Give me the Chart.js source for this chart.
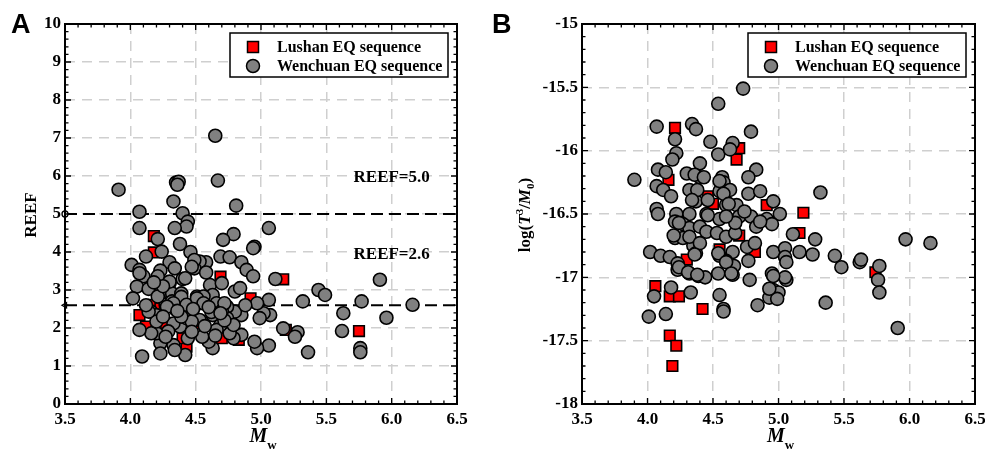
<!DOCTYPE html>
<html>
<head>
<meta charset="utf-8">
<script src="https://cdn.jsdelivr.net/npm/chart.js@4.4.1/dist/chart.umd.min.js"></script>
<style>
  body { margin: 0; background: #fff; }
  #boxA { position: absolute; left: 0; top: 0; width: 490px; height: 452px; }
  #boxB { position: absolute; left: 490px; top: 0; width: 495px; height: 452px; }
</style>
</head>
<body>
<div id="boxA"><canvas id="chartA" width="490" height="452"></canvas></div>
<div id="boxB"><canvas id="chartB" width="495" height="452"></canvas></div>
<script>
// Axis tick labels
const xTickLabels = ['3.5', '4.0', '4.5', '5.0', '5.5', '6.0', '6.5'];
const reefTickLabels = ['0', '1', '2', '3', '4', '5', '6', '7', '8', '9', '10'];
const logTickLabels = ['-18', '-17.5', '-17', '-16.5', '-16', '-15.5', '-15'];
const seriesNames = ['Lushan EQ sequence', 'Wenchuan EQ sequence'];
const reefLevels = [5.0, 2.6];
const reefLevelLabels = ['REEF=5.0', 'REEF=2.6'];

// Panel A: REEF vs Mw
const lushanMwA = [4.18, 4.18, 4.07, 4.18, 4.23, 4.25, 4.12, 4.47, 4.49, 4.43, 4.40, 4.69, 4.92, 5.17, 5.19, 5.75, 4.70, 4.83, 4.20];
const lushanReef = [4.42, 3.99, 2.34, 2.61, 2.52, 2.12, 2.04, 2.21, 2.12, 1.51, 1.73, 3.35, 2.78, 3.28, 1.95, 1.92, 1.73, 1.69, 1.86];

const wenchuanMwA = [3.91, 4.65, 4.67, 4.81, 4.35, 4.37, 4.33, 4.36, 4.07, 4.40,
  4.44, 4.43, 4.34, 4.07, 4.21, 4.38, 5.06, 4.79, 4.71, 4.95,
  4.94, 4.24, 4.46, 4.12, 4.69, 4.76, 4.85, 4.01, 4.58, 4.53,
  4.30, 4.89, 4.94, 4.07, 4.10, 4.23, 4.21, 4.34, 4.49, 4.58,
  4.40, 4.30, 4.61, 4.70, 5.11, 4.05, 4.14, 4.23, 4.32, 4.39,
  4.63, 4.80, 4.84, 5.91, 5.44, 5.49, 5.32, 5.77, 6.16, 5.96,
  5.63, 5.62, 5.76, 5.76, 5.36, 5.28, 5.26, 5.17, 5.06, 5.07,
  5.02, 4.99, 4.97, 5.06, 4.97, 4.95, 4.85, 4.79, 4.76, 4.85,
  4.80, 4.74, 4.74, 4.69, 4.66, 4.63, 4.60, 4.55, 4.53, 4.63,
  4.53, 4.51, 4.56, 4.43, 4.38, 4.38, 4.33, 4.44, 4.42, 4.33,
  4.34, 4.29, 4.23, 4.23, 4.20, 4.16, 4.09, 4.07, 4.16, 4.20,
  4.20, 4.27, 4.32, 4.02, 4.21, 4.35, 4.43, 4.47, 4.66, 4.79,
  4.07, 4.30, 4.39, 4.43, 4.33, 4.28, 4.14, 4.39, 4.51, 4.56,
  4.62, 4.27, 4.49, 4.47, 4.42, 4.25, 4.36, 4.48, 4.60, 4.70,
  4.57, 4.47, 4.25, 4.12, 4.18, 4.65, 4.72, 4.88, 4.72, 4.69];
const wenchuanReef = [5.64, 7.06, 5.88, 5.22, 5.83, 5.85, 5.33, 5.77, 5.06, 5.02,
  4.80, 4.67, 4.63, 4.63, 4.34, 4.21, 4.63, 4.47, 4.32, 4.14,
  4.10, 4.01, 4.00, 3.88, 3.88, 3.86, 3.73, 3.66, 3.73, 3.75,
  3.73, 3.53, 3.36, 3.53, 3.36, 3.51, 3.36, 3.57, 3.57, 3.46,
  3.29, 3.18, 3.13, 3.18, 3.29, 3.09, 3.03, 2.91, 2.91, 2.91,
  2.87, 2.96, 3.05, 3.27, 3.00, 2.87, 2.70, 2.70, 2.61, 2.27,
  2.39, 1.92, 1.47, 1.36, 1.36, 1.89, 1.77, 1.99, 2.74, 2.34,
  2.39, 2.26, 2.65, 1.54, 1.47, 1.64, 1.82, 1.73, 1.86, 2.34,
  2.43, 2.56, 2.26, 2.08, 1.95, 1.47, 1.64, 1.77, 2.21, 2.34,
  2.65, 2.83, 2.83, 2.52, 2.17, 2.04, 2.12, 1.73, 1.29, 1.55,
  1.42, 1.91, 1.60, 1.33, 1.86, 1.86, 1.25, 1.95, 2.43, 2.34,
  2.17, 2.61, 2.70, 2.78, 2.83, 2.48, 2.26, 2.17, 2.65, 2.08,
  3.44, 3.22, 2.82, 2.61, 2.65, 2.56, 2.43, 2.30, 2.78, 2.65,
  2.42, 1.77, 3.79, 3.61, 3.31, 3.10, 2.45, 2.50, 2.55, 2.45,
  2.05, 1.90, 2.30, 2.60, 3.20, 1.80, 2.20, 2.60, 2.65, 2.39];

// Panel B: log(T^3/M0) vs Mw
const lushanMwB = [4.21, 4.16, 4.46, 4.50, 4.70, 4.68, 4.91, 5.19, 5.16, 4.70, 4.55, 4.82, 4.30, 4.06, 4.17, 4.24, 4.42, 4.17, 4.22, 4.19, 5.74];
const lushanLog = [-15.82, -16.23, -16.36, -16.42, -15.98, -16.07, -16.43, -16.49, -16.65, -16.67, -16.78, -16.80, -16.86, -17.07, -17.15, -17.15, -17.25, -17.46, -17.54, -17.70, -16.96];

const wenchuanMwB = [3.90, 4.73, 4.54, 4.07, 4.34, 4.37, 4.79, 4.48, 4.54, 4.65,
  4.63, 4.21, 4.22, 4.19, 4.08, 4.14, 4.30, 4.40, 4.40, 4.57,
  4.58, 4.83, 4.77, 4.07, 4.12, 4.18, 4.32, 4.37, 4.46, 4.55,
  4.63, 4.77, 4.86, 5.32, 4.07, 4.08, 4.22, 4.32, 4.45, 4.55,
  4.60, 4.68, 4.70, 4.79, 4.83, 4.91, 4.96, 5.01, 4.95, 4.21,
  4.27, 4.32, 4.40, 4.45, 4.53, 4.60, 4.67, 4.21, 4.27, 4.35,
  4.37, 4.76, 4.82, 4.77, 4.65, 4.55, 4.02, 4.10, 4.17, 4.23,
  4.23, 4.32, 4.39, 4.44, 4.54, 4.65, 4.66, 4.60, 4.78, 4.96,
  5.05, 5.05, 5.06, 5.11, 5.16, 5.26, 5.28, 5.43, 5.48, 5.62,
  5.63, 5.77, 5.76, 5.77, 5.97, 6.16, 5.91, 5.36, 5.06, 5.05,
  4.95, 4.96, 5.00, 4.93, 4.84, 4.58, 4.58, 4.55, 4.33, 4.18,
  4.05, 4.14, 4.01,
  4.36, 4.43, 4.38, 4.34, 4.55, 4.58, 4.46, 4.24, 4.20, 4.32,
  4.40, 4.54, 4.36, 4.24, 4.31, 4.38, 4.74, 4.86, 4.62, 4.67,
  4.60, 4.60, 4.64, 4.96, 4.99, 4.93];
const wenchuanLog = [-16.23, -15.51, -15.63, -15.81, -15.79, -15.83, -15.85, -15.93, -16.03, -15.94,
  -15.99, -15.91, -16.02, -16.07, -16.15, -16.17, -16.18, -16.10, -16.21, -16.21,
  -16.25, -16.15, -16.21, -16.28, -16.31, -16.36, -16.31, -16.40, -16.39, -16.32,
  -16.31, -16.34, -16.32, -16.33, -16.46, -16.50, -16.50, -16.50, -16.50, -16.54,
  -16.43, -16.43, -16.52, -16.52, -16.60, -16.54, -16.40, -16.50, -16.58, -16.56,
  -16.58, -16.61, -16.60, -16.64, -16.65, -16.68, -16.65, -16.69, -16.69, -16.75,
  -16.81, -16.76, -16.73, -16.87, -16.80, -16.83, -16.80, -16.83, -16.84, -16.89,
  -16.94, -16.97, -16.99, -17.00, -16.97, -16.98, -16.91, -16.87, -17.02, -16.80,
  -16.77, -16.84, -16.88, -16.66, -16.80, -16.82, -16.70, -16.83, -16.92, -16.88,
  -16.86, -16.91, -17.02, -17.12, -16.70, -16.73, -17.40, -17.20, -17.02, -17.00,
  -16.97, -17.10, -17.12, -17.16, -17.22, -17.25, -17.27, -17.14, -17.12, -17.08,
  -17.15, -17.29, -17.31,
  -16.19, -16.21, -16.31, -16.39, -16.24, -16.34, -16.51, -16.57, -16.67, -16.68,
  -16.73, -16.81, -16.82, -16.92, -16.96, -16.98, -16.48, -16.56, -16.42, -16.57,
  -16.52, -16.88, -16.97, -16.99, -17.17, -17.09];

const SERIF = '"Liberation Serif", "Times New Roman", serif';
const tickFont = { family: SERIF, size: 17, weight: 'bold' };

const pts = (xs, ys) => xs.map((x, i) => ({ x: x, y: ys[i] }));

const lushanStyle = {
  pointStyle: 'rect', pointRadius: 7.5, pointHoverRadius: 7.5,
  backgroundColor: '#ff0000', borderColor: '#000', borderWidth: 1.6
};
const wenchuanStyle = {
  pointStyle: 'circle', pointRadius: 6.5, pointHoverRadius: 6.5,
  backgroundColor: '#808080', borderColor: '#000', borderWidth: 1.6
};

// frame with inward minor/major ticks on all four sides
const framePlugin = {
  id: 'frame',
  afterDraw(chart, args, o) {
    const { ctx, chartArea: a, scales: { x, y } } = chart;
    ctx.save();
    ctx.strokeStyle = '#000';
    ctx.lineWidth = 1.3;
    const nx = Math.round((6.5 - 3.5) / 0.1);
    for (let i = 0; i <= nx; i++) {
      const p = x.getPixelForValue(3.5 + i * 0.1);
      const len = i % 5 === 0 ? 6 : 3.5;
      ctx.beginPath();
      ctx.moveTo(p, a.bottom); ctx.lineTo(p, a.bottom - len);
      ctx.moveTo(p, a.top); ctx.lineTo(p, a.top + len);
      ctx.stroke();
    }
    const ny = Math.round((o.max - o.min) / o.minor);
    for (let i = 0; i <= ny; i++) {
      const p = y.getPixelForValue(o.min + i * o.minor);
      const len = i % o.every === 0 ? 6 : 3.5;
      ctx.beginPath();
      ctx.moveTo(a.left, p); ctx.lineTo(a.left + len, p);
      ctx.moveTo(a.right, p); ctx.lineTo(a.right - len, p);
      ctx.stroke();
    }
    ctx.lineWidth = 2;
    ctx.strokeRect(a.left, a.top, a.right - a.left, a.bottom - a.top);
    ctx.restore();
  }
};

// boxed legend inside the plot, top right
const boxLegendPlugin = {
  id: 'boxLegend',
  afterDraw(chart) {
    const { ctx, chartArea: a } = chart;
    const w = 218, h = 44;
    const left = a.right - 9 - w, top = a.top + 9;
    ctx.save();
    ctx.fillStyle = '#fff';
    ctx.fillRect(left, top, w, h);
    ctx.strokeStyle = '#000';
    ctx.lineWidth = 1.5;
    ctx.strokeRect(left, top, w, h);
    // Lushan square
    const mx = left + 23;
    ctx.fillStyle = '#ff0000';
    ctx.fillRect(mx - 5.5, top + 14 - 5.5, 11, 11);
    ctx.strokeRect(mx - 5.5, top + 14 - 5.5, 11, 11);
    // Wenchuan circle
    ctx.beginPath();
    ctx.arc(mx, top + 33, 6.5, 0, Math.PI * 2);
    ctx.fillStyle = '#808080';
    ctx.fill();
    ctx.stroke();
    ctx.fillStyle = '#000';
    ctx.font = 'bold 16px ' + SERIF;
    ctx.textBaseline = 'middle';
    ctx.textAlign = 'left';
    ctx.fillText(seriesNames[0], left + 47, top + 15);
    ctx.fillText(seriesNames[1], left + 47, top + 34);
    ctx.restore();
  }
};

// axis titles with italic / sub / superscripts
function drawRuns(ctx, runs, x, y) {
  let total = 0;
  runs.forEach(r => { ctx.font = r.font; total += ctx.measureText(r.t).width; });
  let cx = x - total / 2;
  runs.forEach(r => {
    ctx.font = r.font;
    ctx.fillText(r.t, cx, y + (r.dy || 0));
    cx += ctx.measureText(r.t).width;
  });
}

const titlesPlugin = {
  id: 'titles',
  afterDraw(chart, args, o) {
    const { ctx, chartArea: a } = chart;
    ctx.save();
    ctx.fillStyle = '#000';
    ctx.textBaseline = 'alphabetic';
    ctx.textAlign = 'left';
    // x title: Mw
    drawRuns(ctx, [
      { t: 'M', font: 'italic bold 20px ' + SERIF },
      { t: 'w', font: 'bold 13px ' + SERIF, dy: 7 }
    ], (a.left + a.right) / 2 + 2, 442);
    // y title
    ctx.translate(o.yTitleX, (a.top + a.bottom) / 2 + 1);
    ctx.rotate(-Math.PI / 2);
    drawRuns(ctx, o.yRuns, 0, 0);
    ctx.restore();
    // panel letter
    ctx.save();
    ctx.fillStyle = '#000';
    ctx.font = 'bold 27px "Liberation Sans", Arial, sans-serif';
    ctx.textBaseline = 'alphabetic';
    ctx.fillText(o.letter, o.letterX, 33);
    ctx.restore();
  }
};

// REEF threshold labels (panel A)
const levelLabelPlugin = {
  id: 'levelLabels',
  afterDatasetsDraw(chart, args, o) {
    if (!o.items) return;
    const { ctx, scales: { x, y } } = chart;
    ctx.save();
    ctx.fillStyle = '#000';
    ctx.font = 'bold 17px ' + SERIF;
    ctx.textAlign = 'center';
    ctx.textBaseline = 'middle';
    o.items.forEach(it => ctx.fillText(it.text, x.getPixelForValue(it.x), y.getPixelForValue(it.y)));
    ctx.restore();
  }
};

function makeChart(id, cfg) {
  return new Chart(document.getElementById(id), {
    type: 'scatter',
    data: { datasets: cfg.datasets },
    options: {
      responsive: false,
      animation: false,
      devicePixelRatio: 1,
      layout: { padding: { left: 0, top: 24, right: cfg.padRight, bottom: 0 } },
      plugins: {
        legend: { display: false },
        tooltip: { enabled: false },
        frame: { min: cfg.yMin, max: cfg.yMax, minor: cfg.yMinor, every: cfg.yEvery },
        titles: { yTitleX: cfg.yTitleX, yRuns: cfg.yRuns, letter: cfg.letter, letterX: cfg.letterX },
        levelLabels: { items: cfg.levelItems }
      },
      scales: {
        x: {
          type: 'linear', min: 3.5, max: 6.5,
          ticks: { stepSize: 0.5, font: tickFont, color: '#000', padding: 5,
                   maxRotation: 0, callback: (v, i) => xTickLabels[i] },
          grid: { color: '#cfcfcf', lineWidth: 1.5, drawTicks: false },
          border: { display: false, dash: [10, 7] },
          afterFit: s => { s.height = 48; s.paddingLeft = 0; s.paddingRight = 0; }
        },
        y: {
          type: 'linear', min: cfg.yMin, max: cfg.yMax,
          ticks: { stepSize: cfg.yStep, font: tickFont, color: '#000', padding: 4,
                   callback: (v, i) => cfg.yTickLabels[i] },
          grid: { color: '#cfcfcf', lineWidth: 1.5, drawTicks: false },
          border: { display: false, dash: [10, 7] },
          afterFit: s => { s.width = cfg.yWidth; s.paddingTop = 0; s.paddingBottom = 0; }
        }
      }
    },
    plugins: [framePlugin, boxLegendPlugin, titlesPlugin, levelLabelPlugin]
  });
}

// reference lines REEF = 5.0 / 2.6
const levelDatasets = reefLevels.map((lv, k) => ({
  type: 'line',
  data: [{ x: 3.5, y: lv }, { x: 6.5, y: lv }],
  borderColor: '#000', borderWidth: 2, borderDash: [12, 6],
  pointRadius: [3, 0], pointStyle: k === 0 ? 'circle' : 'triangle', rotation: -90,
  pointBackgroundColor: '#fff', pointBorderColor: '#000', pointBorderWidth: 1.3,
  clip: false, fill: false
}));

makeChart('chartA', {
  datasets: [
    Object.assign({ label: seriesNames[1], data: pts(wenchuanMwA, wenchuanReef) }, wenchuanStyle),
    Object.assign({ label: seriesNames[0], data: pts(lushanMwA, lushanReef) }, lushanStyle)
  ].concat(levelDatasets),
  yMin: 0, yMax: 10, yStep: 1, yMinor: 0.2, yEvery: 5, yTickLabels: reefTickLabels,
  yWidth: 65, padRight: 33,
  yTitleX: 36,
  yRuns: [{ t: 'REEF', font: 'bold 17px ' + SERIF }],
  letter: 'A', letterX: 11,
  levelItems: [
    { text: reefLevelLabels[0], x: 6.0, y: 5.95 },
    { text: reefLevelLabels[1], x: 6.0, y: 3.93 }
  ]
});

makeChart('chartB', {
  datasets: [
    Object.assign({ label: seriesNames[1], data: pts(wenchuanMwB, wenchuanLog) }, wenchuanStyle),
    Object.assign({ label: seriesNames[0], data: pts(lushanMwB, lushanLog) }, lushanStyle)
  ],
  yMin: -18, yMax: -15, yStep: 0.5, yMinor: 0.1, yEvery: 5, yTickLabels: logTickLabels,
  yWidth: 92, padRight: 10,
  yTitleX: 40,
  yRuns: [
    { t: 'log(', font: 'bold 17px ' + SERIF },
    { t: 'T', font: 'italic bold 17px ' + SERIF },
    { t: '3', font: 'bold 11px ' + SERIF, dy: -7 },
    { t: '/', font: 'bold 17px ' + SERIF },
    { t: 'M', font: 'italic bold 17px ' + SERIF },
    { t: '0', font: 'bold 11px ' + SERIF, dy: 4 },
    { t: ')', font: 'bold 17px ' + SERIF }
  ],
  letter: 'B', letterX: 2,
  levelItems: null
});
</script>
</body>
</html>
